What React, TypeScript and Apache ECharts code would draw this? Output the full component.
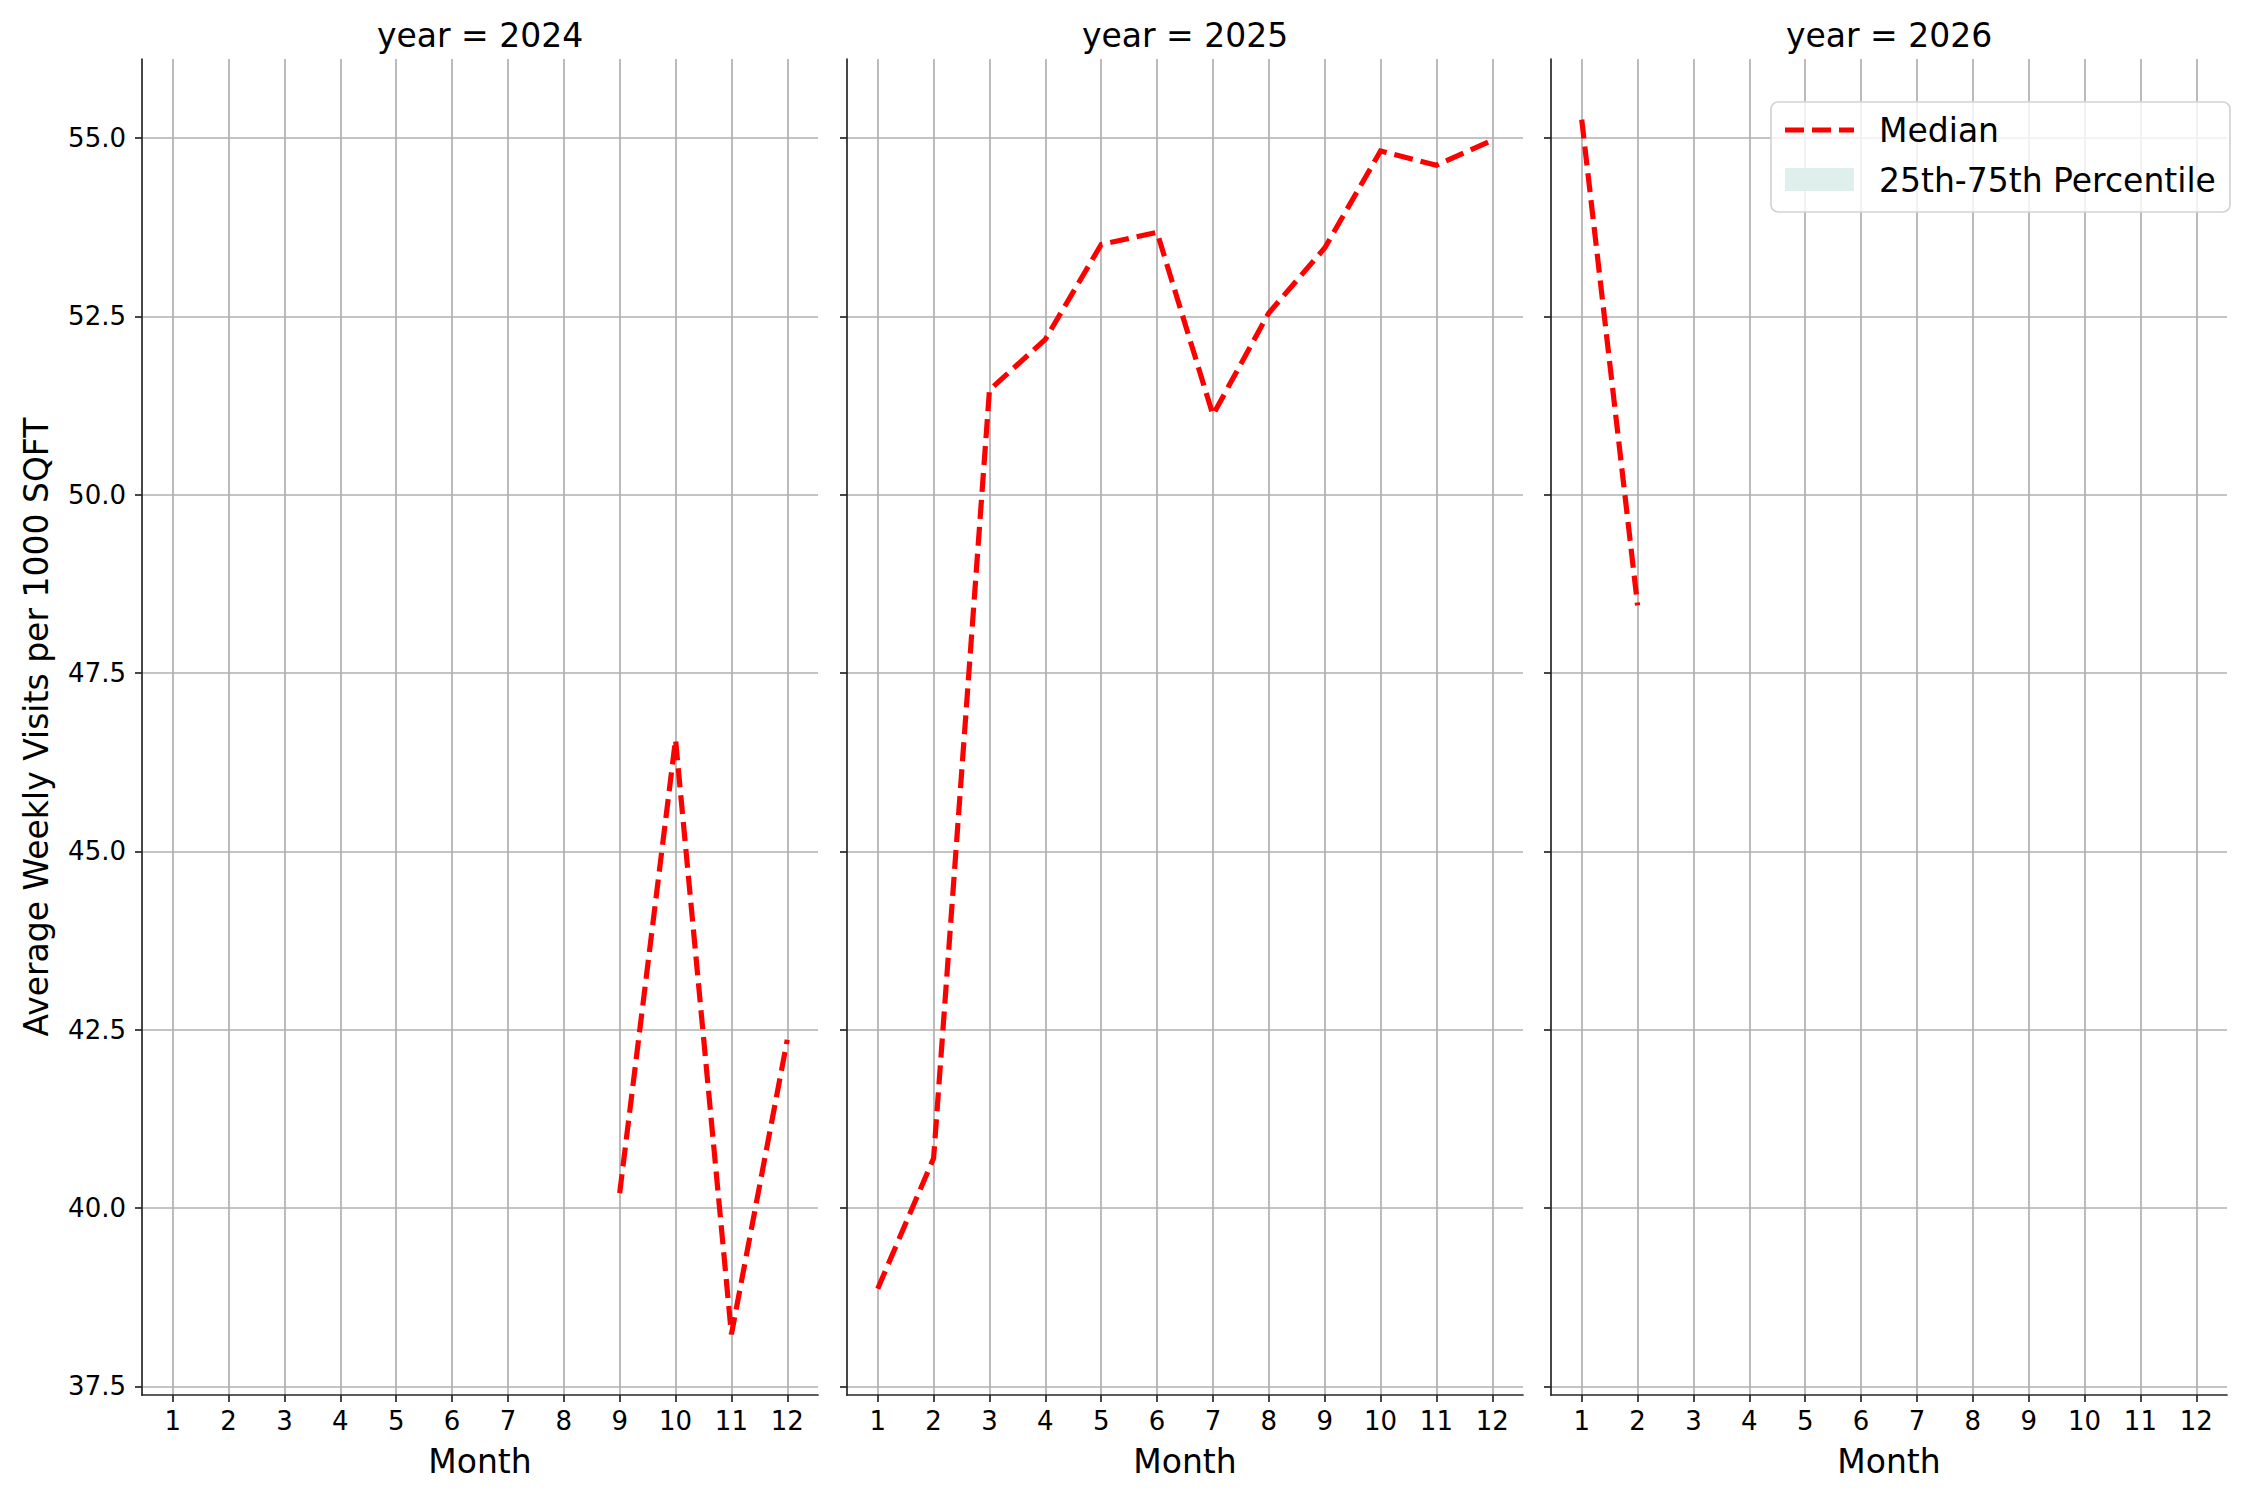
import React, { useEffect, useRef } from 'react';
import * as echarts from 'echarts';

// facet panels, one per year
const years = ['2024', '2025', '2026'];
const months = [1, 2, 3, 4, 5, 6, 7, 8, 9, 10, 11, 12];
const yTicks = [37.5, 40, 42.5, 45, 47.5, 50, 52.5, 55];

// median of average weekly visits per 1000 sqft: [month, value]
const median2024: [number, number][] = [
  [9, 40.21], [10, 46.57], [11, 38.23], [12, 42.36]
];
const median2025: [number, number][] = [
  [1, 38.87], [2, 40.7], [3, 51.47], [4, 52.18], [5, 53.51], [6, 53.68],
  [7, 51.12], [8, 52.55], [9, 53.46], [10, 54.82], [11, 54.62], [12, 54.97]
];
const median2026: [number, number][] = [
  [1, 55.26], [2, 48.45]
];
const medians = [median2024, median2025, median2026];

const legendLabels = ['Median', '25th-75th Percentile'];

const FONT = 'DejaVu Sans';
const RED = '#ff0000';
const DASH = [19, 8];
const SPINE = '#262626';
const GRID_COLOR = '#b0b0b0';

// panel layout (px)
const panelLefts = [142, 847, 1551];
const panelWidth = 676;
const panelTop = 59;
const panelHeight = 1336;

const App: React.FC = () => {
  const chartRef = useRef<HTMLDivElement>(null);

  useEffect(() => {
    if (!chartRef.current) return;
    const chart = echarts.init(chartRef.current, undefined, { renderer: 'svg' });

    const grids = panelLefts.map(left => ({
      left, top: panelTop, width: panelWidth, height: panelHeight, containLabel: false
    }));

    const xAxes = years.map((_, i) => ({
      type: 'value',
      gridIndex: i,
      min: 0.45,
      max: 12.55,
      axisLine: { show: true, onZero: false, lineStyle: { color: SPINE, width: 1.7 } },
      axisTick: { show: true, inside: false, length: 7, customValues: months, lineStyle: { color: SPINE, width: 1.7 } },
      axisLabel: { show: true, customValues: months, fontSize: 26, fontFamily: FONT, color: '#000', margin: 13 },
      splitLine: { show: true, lineStyle: { color: GRID_COLOR, width: 1.7 } }
    }));

    const yAxes = years.map((_, i) => ({
      type: 'value',
      gridIndex: i,
      min: 37.38,
      max: 56.11,
      axisLine: { show: true, onZero: false, lineStyle: { color: SPINE, width: 1.7 } },
      axisTick: { show: true, inside: false, length: 7, customValues: yTicks, lineStyle: { color: SPINE, width: 1.7 } },
      axisLabel: {
        show: i === 0,
        customValues: yTicks,
        fontSize: 26,
        fontFamily: FONT,
        color: '#000',
        margin: 16,
        formatter: (v: number) => v.toFixed(1)
      },
      splitLine: { show: true, lineStyle: { color: GRID_COLOR, width: 1.7 } }
    }));

    const series = medians.map((data, i) => ({
      name: legendLabels[0],
      type: 'line',
      xAxisIndex: i,
      yAxisIndex: i,
      data,
      symbol: 'none',
      showSymbol: false,
      lineStyle: { color: RED, width: 5.2, type: DASH, cap: 'butt', join: 'miter' },
      z: 5
    }));

    const titles = years.map((y, i) => ({
      type: 'text',
      x: panelLefts[i] + panelWidth / 2,
      y: 35,
      style: { text: `year = ${y}`, fill: '#000', font: `33px "${FONT}"`, textAlign: 'center', textVerticalAlign: 'middle' }
    }));

    const monthLabels = years.map((_, i) => ({
      type: 'text',
      x: panelLefts[i] + panelWidth / 2,
      y: 1461,
      style: { text: 'Month', fill: '#000', font: `33px "${FONT}"`, textAlign: 'center', textVerticalAlign: 'middle' }
    }));

    // legend drawn over the third panel, above grid lines and series
    const legendItems = [
      {
        type: 'rect',
        z: 100,
        shape: { x: 1771, y: 102, width: 459, height: 110, r: 7 },
        style: { fill: 'rgba(255,255,255,0.8)', stroke: '#d3d3d3', lineWidth: 1.7 }
      },
      {
        type: 'line',
        z: 101,
        shape: { x1: 1785, y1: 130, x2: 1854, y2: 130 },
        style: { stroke: RED, lineWidth: 5.2, lineDash: DASH }
      },
      {
        type: 'text',
        z: 101,
        x: 1879,
        y: 130,
        style: { text: legendLabels[0], fill: '#000', font: `33px "${FONT}"`, textAlign: 'left', textVerticalAlign: 'middle' }
      },
      {
        type: 'rect',
        z: 101,
        shape: { x: 1785, y: 168, width: 69, height: 23 },
        style: { fill: '#dff0ec' }
      },
      {
        type: 'text',
        z: 101,
        x: 1879,
        y: 180,
        style: { text: legendLabels[1], fill: '#000', font: `33px "${FONT}"`, textAlign: 'left', textVerticalAlign: 'middle' }
      }
    ];

    chart.setOption({
      animation: false,
      backgroundColor: '#ffffff',
      textStyle: { fontFamily: FONT },
      grid: grids,
      xAxis: xAxes,
      yAxis: yAxes,
      series,
      graphic: [
        ...titles,
        ...monthLabels,
        {
          type: 'text',
          x: 36,
          y: 727,
          rotation: Math.PI / 2,
          style: {
            text: 'Average Weekly Visits per 1000 SQFT',
            fill: '#000',
            font: `33px "${FONT}"`,
            textAlign: 'center',
            textVerticalAlign: 'middle'
          }
        },
        ...legendItems
      ]
    });

    return () => chart.dispose();
  }, []);

  return (
    <div
      ref={chartRef}
      style={{ position: 'absolute', left: 0, top: 0, width: 2250, height: 1500 }}
    ></div>
  );
};

export default App;
